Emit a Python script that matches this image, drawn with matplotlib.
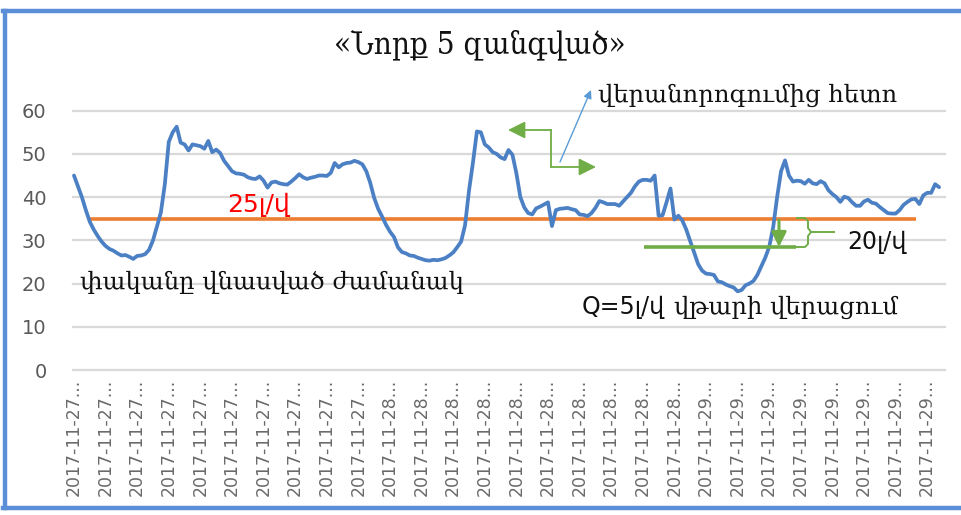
import matplotlib
matplotlib.use("Agg")
import matplotlib.pyplot as plt
from matplotlib.lines import Line2D
from matplotlib.transforms import IdentityTransform

# ---- data -------------------------------------------------------------
pressure = [
    45.0, 42.5, 40.0, 37.0, 34.3, 32.5, 31.0, 29.7, 28.7, 28.0,
    27.6, 27.0, 26.5, 26.6, 26.2, 25.7, 26.4, 26.5, 26.8, 27.8,
    30.0, 33.2, 36.5, 43.0, 52.8, 55.0, 56.3, 52.6, 52.2, 50.8,
    52.2, 52.0, 51.8, 51.2, 53.0, 50.4, 51.0, 50.2, 48.4, 47.2,
    46.0, 45.5, 45.4, 45.2, 44.6, 44.3, 44.2, 44.8, 43.8, 42.2,
    43.4, 43.6, 43.2, 43.0, 42.9, 43.6, 44.4, 45.3, 44.6, 44.2,
    44.5, 44.7, 45.0, 45.0, 44.9, 45.6, 47.9, 46.9, 47.6, 47.9,
    48.0, 48.4, 48.1, 47.6, 46.0, 43.3, 39.8, 37.3, 35.5, 33.6,
    32.0, 30.8, 28.4, 27.3, 27.0, 26.5, 26.4, 26.0, 25.7, 25.4,
    25.3, 25.5, 25.4, 25.6, 25.9, 26.5, 27.2, 28.4, 29.7, 33.5,
    41.5, 48.0, 55.2, 55.0, 52.2, 51.5, 50.4, 50.0, 49.2, 48.8,
    50.9, 49.8, 45.5, 40.0, 37.6, 36.3, 36.0, 37.4, 37.8, 38.3,
    38.8, 33.3, 37.0, 37.3, 37.4, 37.5, 37.2, 37.0, 36.0, 35.9,
    35.6, 36.3, 37.5, 39.1, 38.8, 38.4, 38.4, 38.4, 38.0, 39.0,
    40.0, 41.0, 42.5, 43.6, 44.0, 44.0, 43.8, 45.0, 35.7, 35.8,
    38.8, 42.0, 34.8, 35.7, 34.6, 32.5, 29.8, 27.2, 24.5, 23.0,
    22.3, 22.2, 22.0, 20.5, 20.3, 19.8, 19.4, 19.1, 18.2, 18.5,
    19.6, 20.0, 20.6, 22.0, 24.0, 26.0, 28.5, 33.0, 40.0, 46.0,
    48.5, 45.0, 43.6, 43.8, 43.7, 43.1, 44.0, 43.2, 43.0, 43.7,
    43.2, 41.6, 40.7, 40.0, 38.9, 40.1, 39.8, 38.8, 38.0, 38.0,
    39.0, 39.4, 38.7, 38.5, 37.7, 37.0, 36.3, 36.2, 36.2, 37.0,
    38.2, 38.9, 39.5, 39.6, 38.4, 40.4, 41.0, 41.0, 43.0, 42.3,
]
day_labels = ["2017-11-27...", "2017-11-28...", "2017-11-29..."]
labels_per_day = [10, 10, 8]
label_step = 8
tick_labels = [d for d, n in zip(day_labels, labels_per_day) for _ in range(n)]
y_ticks = [0, 10, 20, 30, 40, 50, 60]

threshold_level = 35      # orange reference line
repaired_level = 28.5     # green reference line

# ---- figure -----------------------------------------------------------
W, H = 962, 515
fig = plt.figure(figsize=(W / 100, H / 100), dpi=100)
fig.patch.set_facecolor("white")

ax_left, ax_right, ax_top, ax_bottom = 73, 945, 110.7, 370
ax = fig.add_axes([ax_left / W, 1 - ax_bottom / H,
                   (ax_right - ax_left) / W, (ax_bottom - ax_top) / H])

n = len(pressure)
x = list(range(n))
ax.plot(x, pressure, color="#4C80C4", lw=2.7, solid_joinstyle="round",
        solid_capstyle="round", zorder=4, clip_on=False)

ax.set_xlim(-0.25, n - 1 + 1.5)
ax.set_ylim(0, 60)
ax.set_autoscale_on(False)
ax.set_yticks(y_ticks)
ax.set_xticks(list(range(0, n, label_step)))
ax.set_xticklabels(tick_labels, rotation=90, fontsize=12.5, color="#6A6A6A",
                   va="top", ha="center")
ax.tick_params(axis="x", length=0, pad=6)
ax.tick_params(axis="y", length=0, pad=19, labelsize=14, labelcolor="#595959")
for s in ax.spines.values():
    s.set_visible(False)
ax.grid(axis="y", color="#D9D9D9", lw=1.6, zorder=0)
ax.set_axisbelow(True)
for g in ax.get_ygridlines():
    g.set_clip_on(False)


def to_idx(px):
    return (px - 74) / 3.954


# orange and green reference lines
ax.plot([to_idx(88), to_idx(917)], [threshold_level] * 2, color="#ED7D31",
        lw=2.6, zorder=3, solid_capstyle="butt")
ax.plot([to_idx(645), to_idx(797)], [repaired_level] * 2, color="#70AD47",
        lw=2.6, zorder=5, solid_capstyle="butt")

# ---- annotations in figure pixels --------------------------------------
green = "#70AD47"


def fp(px, py):
    return (px, H - py)


def arrow(p0, p1, color, lw, scale):
    ax.annotate("", xy=fp(*p1), xycoords="figure pixels",
                xytext=fp(*p0), textcoords="figure pixels",
                arrowprops=dict(arrowstyle="-|>", color=color, lw=lw,
                                mutation_scale=scale, shrinkA=0, shrinkB=0),
                annotation_clip=False, zorder=6)


# drop arrow between the two levels
arrow((779, 220), (779, 247), green, 2.2, 22)
# elbow arrows
arrow((551, 130), (508, 130), green, 1.3, 26)
fig.add_artist(Line2D([551, 551], [H - 130, H - 167], color=green, lw=1.3,
                      transform=IdentityTransform()))
arrow((551, 167), (596, 167), green, 1.3, 26)
# blue pointer
arrow((560, 162), (591, 90), "#5B9BD5", 1.0, 12)

# brace marking the pressure drop
bx = [797, 805, 808, 808, 811, 834]
by = [218, 218, 221, 228, 232, 232]
bx2 = [811, 808, 808, 805, 796]
by2 = [232, 236, 244, 247, 247]
fig.add_artist(Line2D(bx, [H - v for v in by], color=green, lw=1.4,
                      transform=IdentityTransform()))
fig.add_artist(Line2D(bx2, [H - v for v in by2], color=green, lw=1.4,
                      transform=IdentityTransform()))

serif = ["DejaVu Serif"]
sans = ["DejaVu Sans"]


def ftext(px, py, s, **kw):
    fig.text(px / W, 1 - py / H, s, **kw)


ftext(480, 45, "«Նորք 5 զանգված»", fontsize=22.5, family=serif,
      fontstretch="condensed", ha="center", va="center", color="#111111")
ftext(598, 95, "վերանորոգումից հետո", fontsize=17.5, family=serif,
      ha="left", va="center", color="#111111")
ftext(227, 205, "25լ/վ", fontsize=18, family=sans, ha="left", va="center",
      color="#FF0000")
ftext(80, 282, "փականը վնասված ժամանակ", fontsize=17.5, family=serif,
      ha="left", va="center", color="#111111")
ftext(582, 307, "Q=5լ/վ", fontsize=17, family=sans, ha="left", va="center",
      color="#111111")
ftext(674, 307, "վթարի վերացում", fontsize=17.5, family=serif, ha="left",
      va="center", color="#111111")
ftext(847, 242, "20լ/վ", fontsize=17, family=sans, ha="left", va="center",
      color="#111111")

# outer frame
frame = "#5B8ED6"
for xs, ys in [([3, W], [11, 11]), ([5, 5], [11, 508]), ([3, W], [508, 508])]:
    fig.add_artist(Line2D(xs, [H - v for v in ys], color=frame, lw=3.2,
                          transform=IdentityTransform()))

fig.savefig("out.png", dpi=100)
